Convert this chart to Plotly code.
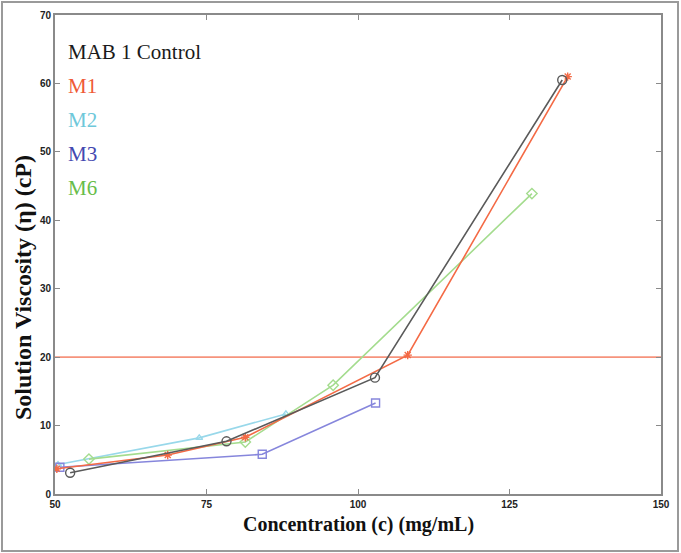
import plotly.graph_objects as go

# Data
control_x = [52.5, 78.3, 102.8, 133.7]
control_y = [3.1, 7.7, 17.0, 60.5]
m1_x = [50.3, 68.6, 81.4, 108.2, 134.6]
m1_y = [3.7, 5.7, 8.3, 20.3, 61.0]
m2_x = [50.5, 73.8, 88.1]
m2_y = [4.3, 8.2, 11.7]
m3_x = [50.8, 84.2, 102.9]
m3_y = [3.9, 5.8, 13.3]
m6_x = [55.6, 81.4, 95.9, 128.7]
m6_y = [5.1, 7.6, 15.9, 43.9]
threshold = 20
x_range = [50, 150]
x_ticks = [50, 75, 100, 125, 150]
y_ticks = [0, 10, 20, 30, 40, 50, 60, 70]

names = ["MAB 1 Control", "M1", "M2", "M3", "M6"]
text_colors = ["#1a1a1a", "#ef5a36", "#6ec8da", "#4348b0", "#68bd4a"]

L, R, T, B = 55, 20, 15, 59
W, H = 681, 553
PW, PH = W - L - R, H - T - B


def px_x(p):
    return (p - L) / PW


def px_y(p):
    return (H - B - p) / PH


fig = go.Figure()

fig.add_trace(go.Scatter(x=x_range, y=[threshold, threshold], mode="lines",
                         line=dict(color="#f6937c", width=1.6), showlegend=False))

series = [
    (m2_x, m2_y, "#98d8ea", "triangle-up-open", 6),
    (m3_x, m3_y, "#8686dc", "square-open", 8),
    (m6_x, m6_y, "#a4dc8e", "diamond-open", 8),
    (m1_x, m1_y, "#f46a45", "asterisk-open", 7),
    (control_x, control_y, "#5a5a5a", "circle-open", 9),
]
for xs, ys, col, sym, sz in series:
    fig.add_trace(go.Scatter(x=xs, y=ys, mode="lines+markers",
                             line=dict(color=col, width=1.6),
                             marker=dict(symbol=sym, size=sz, color=col,
                                         line=dict(color=col, width=1.4)),
                             showlegend=False))

ypix = [52, 86, 120, 154, 188]
for n, c, yp in zip(names, text_colors, ypix):
    fig.add_annotation(x=px_x(66), y=px_y(yp), xref="paper", yref="paper", text=n,
                       showarrow=False, xanchor="left", yanchor="middle",
                       font=dict(family="Liberation Serif", size=21, color=c))

# axis titles
fig.add_annotation(x=px_x(358), y=px_y(524), xref="paper", yref="paper",
                   text="Concentration (c) (mg/mL)", showarrow=False,
                   xanchor="center", yanchor="middle",
                   font=dict(family="Liberation Serif", size=20, color="#111", weight="bold"))
fig.add_annotation(x=px_x(23), y=px_y(288), xref="paper", yref="paper",
                   text="Solution Viscosity (η) (cP)", showarrow=False, textangle=-90,
                   xanchor="center", yanchor="middle",
                   font=dict(family="Liberation Serif", size=24, color="#111", weight="bold"))

# outer frame of the image
fig.add_shape(type="rect", xref="paper", yref="paper", layer="above",
              x0=px_x(2), x1=px_x(678), y0=px_y(551), y1=px_y(2),
              line=dict(color="#9a9a9a", width=2))

axis_common = dict(showgrid=False, zeroline=False, showline=True, mirror="ticks",
                   linecolor="#8a8a8a", linewidth=2, ticks="inside", ticklen=5,
                   tickcolor="#8a8a8a", tickwidth=1, automargin=False,
                   tickfont=dict(family="Liberation Sans", size=10, color="#222", weight="bold"))

fig.update_xaxes(range=x_range, tickvals=x_ticks, **axis_common)
fig.update_yaxes(range=[0, 70], tickvals=y_ticks, **axis_common)

fig.update_layout(width=W, height=H, margin=dict(l=L, r=R, t=T, b=B),
                  plot_bgcolor="white", paper_bgcolor="white")

fig.write_html("out.html", config={"displayModeBar": False},
               post_script="document.body.style.margin='0';document.body.style.overflow='hidden';")
